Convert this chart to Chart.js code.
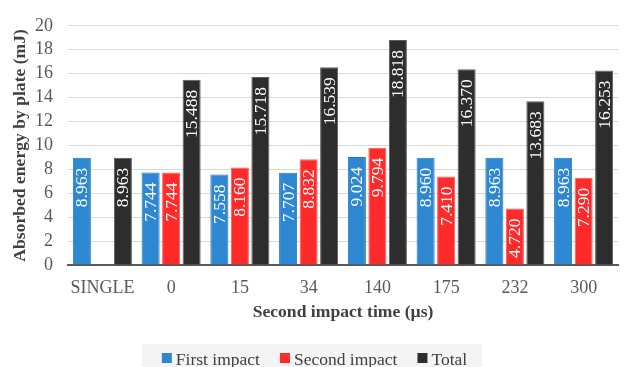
<!DOCTYPE html>
<html>
<head>
<meta charset="utf-8">
<script src="https://cdn.jsdelivr.net/npm/chart.js@4/dist/chart.umd.min.js"></script>
<style>
  html, body { margin: 0; padding: 0; background: #ffffff; }
  #wrap { width: 625px; height: 367px; position: relative; }
</style>
</head>
<body>
<div id="wrap"><canvas id="chart"></canvas></div>
<script>
// Second impact times (µs) on the x axis
const categories = ['SINGLE', '0', '15', '34', '140', '175', '232', '300'];
// Absorbed energy by plate (mJ)
const firstImpact  = [8.963, 7.744, 7.558, 7.707, 9.024, 8.960, 8.963, 8.963];
const secondImpact = [null, 7.744, 8.160, 8.832, 9.794, 7.410, 4.720, 7.290];
const totalEnergy  = [8.963, 15.488, 15.718, 16.539, 18.818, 16.370, 13.683, 16.253];
const yTicks = [0, 2, 4, 6, 8, 10, 12, 14, 16, 18, 20];

const SERIF = "'Liberation Serif', 'Times New Roman', serif";

// Value labels written vertically inside the top of each bar
const barLabels = {
  id: 'barLabels',
  afterDatasetsDraw(chart) {
    const ctx = chart.ctx;
    ctx.save();
    ctx.font = '17.5px ' + SERIF;
    ctx.fillStyle = '#ffffff';
    ctx.textAlign = 'right';
    ctx.textBaseline = 'middle';
    chart.data.datasets.forEach((ds, i) => {
      const meta = chart.getDatasetMeta(i);
      meta.data.forEach((bar, j) => {
        const v = ds.data[j];
        if (v === null || v === undefined) return;
        ctx.save();
        ctx.translate(bar.x, bar.y + 10);
        ctx.rotate(-Math.PI / 2);
        ctx.fillText(v.toFixed(3), 0, 1);
        ctx.restore();
      });
    });
    ctx.restore();
  }
};

// Legend row on a light grey band under the axis title
const bandLegend = {
  id: 'bandLegend',
  afterDraw(chart) {
    const ctx = chart.ctx;
    ctx.save();
    ctx.font = '17.5px ' + SERIF;
    const items = chart.data.datasets.map(ds => ({
      label: ds.label, color: ds.backgroundColor, w: ctx.measureText(ds.label).width
    }));
    const box = 10, gapText = 4, gapItem = 20;
    let total = 0;
    items.forEach((it, k) => { total += box + gapText + it.w + (k < items.length - 1 ? gapItem : 0); });
    const cx = chart.width / 2 + 2;
    let x = cx - total / 2;
    const top = 344;
    ctx.fillStyle = '#f4f4f4';
    ctx.fillRect(x - 20, top, total + 35, chart.height - top);
    items.forEach(it => {
      ctx.fillStyle = it.color;
      ctx.fillRect(x, 353, box, box);
      ctx.fillStyle = '#404040';
      ctx.textBaseline = 'alphabetic';
      ctx.textAlign = 'left';
      ctx.fillText(it.label, x + box + gapText, 364.5);
      x += box + gapText + it.w + gapItem;
    });
    ctx.restore();
  }
};

new Chart(document.getElementById('chart'), {
  type: 'bar',
  data: {
    labels: categories,
    datasets: [
      { label: 'First impact', data: firstImpact, backgroundColor: '#2e87d1', borderColor: '#1f78c6', borderWidth: 1 },
      { label: 'Second impact', data: secondImpact, backgroundColor: '#ff2a2a', borderColor: '#ff5c5c', borderWidth: 1 },
      { label: 'Total', data: totalEnergy, backgroundColor: '#2d2d2d', borderColor: '#5c5c5c', borderWidth: 1 }
    ]
  },
  options: {
    responsive: true,
    maintainAspectRatio: false,
    animation: false,
    devicePixelRatio: 1,
    layout: { padding: { top: 22, right: 7, bottom: 40, left: 0 } },
    datasets: { bar: { categoryPercentage: 0.895, barPercentage: 0.88 } },
    plugins: {
      legend: { display: false },
      tooltip: { enabled: false }
    },
    scales: {
      x: {
        grid: { display: false, drawTicks: false },
        border: { display: true, color: '#595959', width: 2 },
        ticks: { color: '#595959', font: { family: SERIF, size: 18 }, padding: 12, maxRotation: 0, autoSkip: false },
        title: {
          display: true, text: 'Second impact time (µs)', color: '#404040',
          font: { family: SERIF, size: 17.6, weight: 'bold' }, padding: { top: 4, bottom: 4 }
        },
        afterFit(scale) { scale.height = 62; }
      },
      y: {
        min: 0, max: 20,
        afterBuildTicks(scale) { scale.ticks = yTicks.map(v => ({ value: v })); },
        grid: { color: '#d9d9d9', lineWidth: 1, drawTicks: false },
        border: { display: false },
        ticks: { color: '#595959', font: { family: SERIF, size: 18 }, padding: 15, autoSkip: false },
        title: {
          display: true, text: 'Absorbed energy by plate (mJ)', color: '#404040',
          font: { family: SERIF, size: 17.6, weight: 'bold' }, padding: { top: 10, bottom: 0 }
        },
        afterFit(scale) { scale.width = 68; }
      }
    }
  },
  plugins: [barLabels, bandLegend]
});
</script>
</body>
</html>
